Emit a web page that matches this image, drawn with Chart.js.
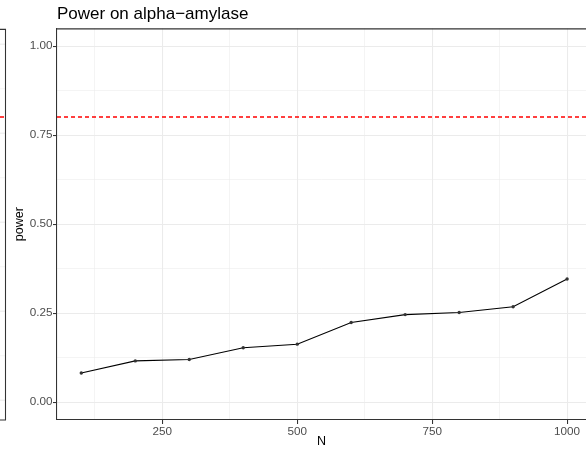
<!DOCTYPE html>
<html>
<head>
<meta charset="utf-8">
<script src="https://cdn.jsdelivr.net/npm/chart.js@4/dist/chart.umd.min.js"></script>
<style>
  html, body { margin: 0; padding: 0; background: #fff; }
  #wrap { width: 586px; height: 450px; position: relative; }
</style>
</head>
<body>
<div id="wrap"><canvas id="powerChart"></canvas></div>
<script>
const sampleSizes = [100, 200, 300, 400, 500, 600, 700, 800, 900, 1000];
const powerValues = [0.082, 0.116, 0.120, 0.153, 0.163, 0.224, 0.246, 0.252, 0.268, 0.346];
const xTickLabels = [250, 500, 750, 1000];
const xMinorTicks = [125, 375, 625, 875];
const yTickLabels = [0, 0.25, 0.5, 0.75, 1];
const yMinorTicks = [0.125, 0.375, 0.625, 0.875];
const targetPower = 0.8;

const fontFamily = '"Liberation Sans", Arial, Helvetica, sans-serif';

function isMajor(list, v) {
    return list.some(t => Math.abs(t - v) < 1e-9);
}

// extra bits: dashed target line, top border, and the sliver of the neighbouring panel
const panelExtras = {
    id: 'panelExtras',
    beforeDatasetsDraw(chart) {
        const ctx = chart.ctx;
        const area = chart.chartArea;
        const y = chart.scales.y;
        const stripRight = 5.5;

        ctx.save();
        // neighbour panel grid
        yTickLabels.concat(yMinorTicks).forEach(v => {
            const py = y.getPixelForValue(v) - 2;
            ctx.strokeStyle = '#ebebeb';
            ctx.lineWidth = isMajor(yTickLabels, v) ? 1.07 : 0.55;
            ctx.beginPath();
            ctx.moveTo(0, py);
            ctx.lineTo(stripRight, py);
            ctx.stroke();
        });
        // neighbour panel border
        ctx.strokeStyle = '#333333';
        ctx.lineWidth = 1.07;
        ctx.beginPath();
        ctx.moveTo(0, area.top + 1);
        ctx.lineTo(stripRight, area.top + 1);
        ctx.lineTo(stripRight, area.bottom);
        ctx.lineTo(0, area.bottom);
        ctx.stroke();

        // dashed target line across both panels
        const py = Math.round(y.getPixelForValue(targetPower));
        ctx.strokeStyle = '#ff0000';
        ctx.lineWidth = 1.3;
        ctx.setLineDash([4, 3]);
        ctx.beginPath();
        ctx.moveTo(0, py);
        ctx.lineTo(stripRight - 1, py);
        ctx.moveTo(area.left, py);
        ctx.lineTo(area.right, py);
        ctx.stroke();
        ctx.restore();
    },
    afterDraw(chart) {
        const ctx = chart.ctx;
        const area = chart.chartArea;
        ctx.save();
        ctx.strokeStyle = '#333333';
        ctx.lineWidth = 1.07;
        ctx.beginPath();
        ctx.moveTo(area.left, area.top + 0.5);
        ctx.lineTo(area.right, area.top + 0.5);
        ctx.stroke();
        ctx.restore();
    }
};

const ctx = document.getElementById('powerChart').getContext('2d');
new Chart(ctx, {
    type: 'line',
    data: {
        datasets: [{
            data: sampleSizes.map((n, i) => ({ x: n, y: powerValues[i] })),
            borderColor: '#000000',
            borderWidth: 1.07,
            pointRadius: 1.7,
            pointBackgroundColor: '#333333',
            pointBorderWidth: 0,
            tension: 0
        }]
    },
    options: {
        responsive: true,
        maintainAspectRatio: false,
        animation: false,
        layout: { padding: 0, autoPadding: false },
        plugins: {
            legend: { display: false },
            tooltip: { enabled: false },
            title: {
                display: true,
                text: 'Power on alpha\u2212amylase',
                align: 'start',
                fullSize: false,
                color: '#000000',
                font: { family: fontFamily, size: 17, weight: 'normal' },
                padding: { top: 4, bottom: 4 }
            }
        },
        scales: {
            x: {
                type: 'linear',
                min: 55,
                max: 1035,
                afterBuildTicks: s => {
                    s.ticks = xMinorTicks.concat(xTickLabels).sort((a, b) => a - b).map(v => ({ value: v }));
                },
                afterFit: s => {
                    s.height = 30;
                    s.paddingLeft = 0;
                    s.paddingRight = 0;
                },
                ticks: {
                    autoSkip: false,
                    maxRotation: 0,
                    padding: 1,
                    color: '#4d4d4d',
                    font: { family: fontFamily, size: 11.7 },
                    callback: v => isMajor(xTickLabels, v) ? String(v) : ''
                },
                grid: {
                    color: '#ebebeb',
                    lineWidth: c => isMajor(xTickLabels, c.tick.value) ? 1.07 : 0.55,
                    tickColor: c => isMajor(xTickLabels, c.tick.value) ? '#333333' : 'rgba(0,0,0,0)',
                    tickWidth: 1.07,
                    tickLength: 4
                },
                border: { display: true, color: '#333333', width: 1.07 },
                title: {
                    display: true,
                    text: 'N',
                    color: '#000000',
                    font: { family: fontFamily, size: 12.5 },
                    padding: { top: 0, bottom: 1 }
                }
            },
            y: {
                type: 'linear',
                min: -0.05,
                max: 1.05,
                afterBuildTicks: s => {
                    s.ticks = yMinorTicks.concat(yTickLabels).sort((a, b) => a - b).map(v => ({ value: v }));
                },
                afterFit: s => {
                    s.width = 57;
                    s.paddingTop = 0;
                    s.paddingBottom = 0;
                },
                ticks: {
                    autoSkip: false,
                    padding: 0.5,
                    color: '#4d4d4d',
                    font: { family: fontFamily, size: 11.7 },
                    callback: v => isMajor(yTickLabels, v) ? v.toFixed(2) : ''
                },
                grid: {
                    color: '#ebebeb',
                    lineWidth: c => isMajor(yTickLabels, c.tick.value) ? 1.07 : 0.55,
                    tickColor: c => isMajor(yTickLabels, c.tick.value) ? '#333333' : 'rgba(0,0,0,0)',
                    tickWidth: 1.07,
                    tickLength: 4
                },
                border: { display: true, color: '#333333', width: 1.07 },
                title: {
                    display: true,
                    text: 'power',
                    color: '#000000',
                    font: { family: fontFamily, size: 12.5 },
                    padding: { top: 12, bottom: 0 }
                }
            }
        }
    },
    plugins: [panelExtras]
});
</script>
</body>
</html>
